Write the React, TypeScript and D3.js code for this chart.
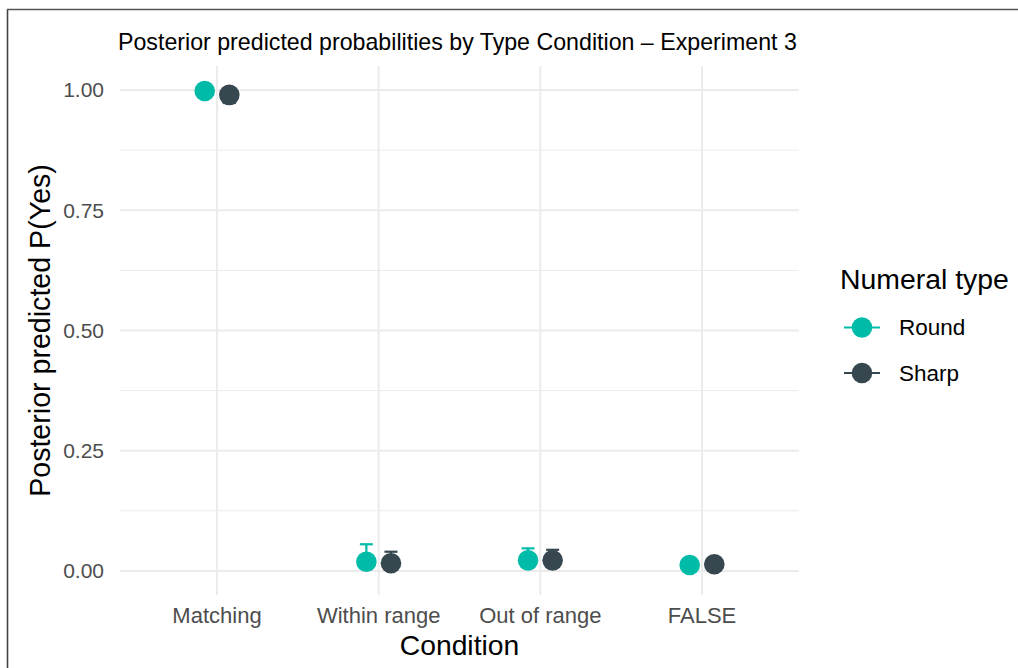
import React from "react";
import * as d3 from "d3";

const categories = ["Matching", "Within range", "Out of range", "FALSE"];
const seriesNames = ["Round", "Sharp"];
const seriesColors = ["#00BBA7", "#37474F"];
const roundMean = [0.998, 0.019, 0.022, 0.0125];
const roundLower = [0.99, 0.005, 0.008, 0.004];
const roundUpper = [1.0, 0.0555, 0.047, 0.02];
const sharpMean = [0.99, 0.016, 0.022, 0.014];
const sharpLower = [0.973, 0.005, 0.008, 0.005];
const sharpUpper = [0.999, 0.04, 0.044, 0.022];
const yTicks = [0, 0.25, 0.5, 0.75, 1.0];
const yMinorTicks = [0.125, 0.375, 0.625, 0.875];

const W = 1018, H = 668;
const panel = { left: 120, right: 799, top: 66, bottom: 595 };

export default function App() {
  const xp = d3.scalePoint().domain(categories).range([panel.left, panel.right]).padding(0.6);
  const y = d3.scaleLinear().domain([-0.05, 1.05]).range([panel.bottom, panel.top]);
  const dodge = 12.3;
  const series = [
    { name: seriesNames[0], color: seriesColors[0], mean: roundMean, lo: roundLower, hi: roundUpper, off: -dodge },
    { name: seriesNames[1], color: seriesColors[1], mean: sharpMean, lo: sharpLower, hi: sharpUpper, off: dodge },
  ];
  const font = "'Liberation Sans', Arial, sans-serif";
  const grid = "#EBEBEB";
  return (
    <svg width={W} height={H} style={{ position: "absolute", left: 0, top: 0, background: "#fff" }} fontFamily={font}>
      <rect x={0} y={0} width={W} height={H} fill="#fff" />
      <line x1={7.5} y1={9.5} x2={7.5} y2={H} stroke="#444" strokeWidth={1.6} />
      <line x1={7} y1={9.5} x2={W} y2={9.5} stroke="#555" strokeWidth={1.3} />
      {yMinorTicks.map((t) => (
        <line key={"m" + t} x1={panel.left} x2={panel.right} y1={y(t)} y2={y(t)} stroke={grid} strokeWidth={1} />
      ))}
      {yTicks.map((t) => (
        <line key={"g" + t} x1={panel.left} x2={panel.right} y1={y(t)} y2={y(t)} stroke={grid} strokeWidth={2} />
      ))}
      {categories.map((c) => (
        <line key={"v" + c} x1={xp(c)} x2={xp(c)} y1={panel.top} y2={panel.bottom} stroke={grid} strokeWidth={2} />
      ))}
      {yTicks.map((t) => (
        <text key={"t" + t} x={104} y={y(t)} dy="0.35em" textAnchor="end" fontSize={21} fill="#4D4D4D">
          {d3.format(".2f")(t)}
        </text>
      ))}
      {categories.map((c) => (
        <text key={"xl" + c} x={xp(c)} y={623} textAnchor="middle" fontSize={22} fill="#4D4D4D">
          {c}
        </text>
      ))}
      {series.map((s) =>
        categories.map((c, i) => {
          const cx = (xp(c) as number) + s.off;
          return (
            <g key={s.name + c}>
              <line x1={cx} x2={cx} y1={y(s.lo[i])} y2={y(s.hi[i])} stroke={s.color} strokeWidth={2.2} />
              <line x1={cx - 6.5} x2={cx + 6.5} y1={y(s.hi[i])} y2={y(s.hi[i])} stroke={s.color} strokeWidth={2.2} />
              <line x1={cx - 6.5} x2={cx + 6.5} y1={y(s.lo[i])} y2={y(s.lo[i])} stroke={s.color} strokeWidth={2.2} />
              <circle cx={cx} cy={y(s.mean[i])} r={10.3} fill={s.color} />
            </g>
          );
        })
      )}
      <text x={118} y={50} fontSize={23.2} fill="#000">
        Posterior predicted probabilities by Type Condition – Experiment 3
      </text>
      <text x={(panel.left + panel.right) / 2} y={655} textAnchor="middle" fontSize={28.3} fill="#000">
        Condition
      </text>
      <text
        transform={`translate(50, ${(panel.top + panel.bottom) / 2}) rotate(-90)`}
        textAnchor="middle"
        fontSize={28.6}
        fill="#000"
      >
        Posterior predicted P(Yes)
      </text>
      <text x={840} y={289} fontSize={28.4} fill="#000">Numeral type</text>
      {series.map((s, i) => {
        const ly = 327.5 + i * 45.5;
        return (
          <g key={"lg" + s.name}>
            <line x1={844} x2={880} y1={ly} y2={ly} stroke={s.color} strokeWidth={2.2} />
            <circle cx={862} cy={ly} r={10.3} fill={s.color} />
            <text x={899} y={ly} dy="0.35em" fontSize={22.5} fill="#000">{s.name}</text>
          </g>
        );
      })}
    </svg>
  );
}
